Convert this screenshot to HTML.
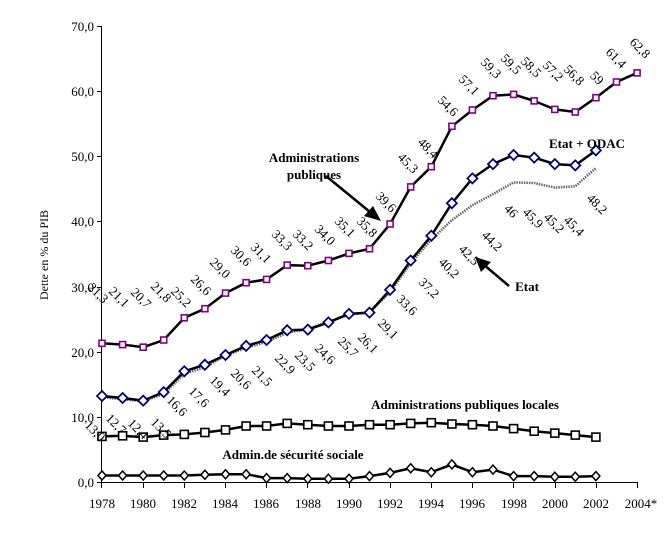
<!DOCTYPE html>
<html><head><meta charset="utf-8"><style>
html,body{margin:0;padding:0;background:#fff;}
svg{display:block;font-family:"Liberation Serif",serif;}
.l{font-size:13px;fill:#000;}
</style></head><body>
<svg width="669" height="543" viewBox="0 0 669 543" xmlns="http://www.w3.org/2000/svg">
<!-- axes -->
<g stroke="#000" stroke-width="1">
<line x1="101.5" y1="26" x2="101.5" y2="482"/>
<line x1="101" y1="482.5" x2="637" y2="482.5"/>
<line x1="97" y1="26.5" x2="101" y2="26.5"/>
<line x1="97" y1="91.5" x2="101" y2="91.5"/>
<line x1="97" y1="156.5" x2="101" y2="156.5"/>
<line x1="97" y1="221.5" x2="101" y2="221.5"/>
<line x1="97" y1="287.5" x2="101" y2="287.5"/>
<line x1="97" y1="352.5" x2="101" y2="352.5"/>
<line x1="97" y1="417.5" x2="101" y2="417.5"/>
<line x1="97" y1="482.5" x2="101" y2="482.5"/>
<line x1="101.5" y1="482" x2="101.5" y2="488"/>
<line x1="143.5" y1="482" x2="143.5" y2="488"/>
<line x1="184.5" y1="482" x2="184.5" y2="488"/>
<line x1="225.5" y1="482" x2="225.5" y2="488"/>
<line x1="266.5" y1="482" x2="266.5" y2="488"/>
<line x1="307.5" y1="482" x2="307.5" y2="488"/>
<line x1="349.5" y1="482" x2="349.5" y2="488"/>
<line x1="390.5" y1="482" x2="390.5" y2="488"/>
<line x1="431.5" y1="482" x2="431.5" y2="488"/>
<line x1="472.5" y1="482" x2="472.5" y2="488"/>
<line x1="513.5" y1="482" x2="513.5" y2="488"/>
<line x1="555.5" y1="482" x2="555.5" y2="488"/>
<line x1="596.5" y1="482" x2="596.5" y2="488"/>
<line x1="637.5" y1="482" x2="637.5" y2="488"/>
</g>
<g class="l" text-anchor="end">
<text x="94" y="31">70,0</text><text x="94" y="96">60,0</text><text x="94" y="161">50,0</text>
<text x="94" y="226">40,0</text><text x="94" y="292">30,0</text><text x="94" y="357">20,0</text>
<text x="94" y="422">10,0</text><text x="94" y="487">0,0</text>
</g>
<g class="l" text-anchor="middle">
<text x="102" y="508">1978</text><text x="143" y="508">1980</text><text x="184" y="508">1982</text>
<text x="225" y="508">1984</text><text x="266" y="508">1986</text><text x="308" y="508">1988</text>
<text x="349" y="508">1990</text><text x="390" y="508">1992</text><text x="431" y="508">1994</text>
<text x="472" y="508">1996</text><text x="514" y="508">1998</text><text x="555" y="508">2000</text>
<text x="596" y="508">2002</text><text x="641" y="508">2004*</text>
</g>
<text class="l" transform="translate(48,255) rotate(-90)" text-anchor="middle" style="font-size:12px">Dette en % du PIB</text>

<!-- Etat dotted -->
<polyline fill="none" stroke="#666" stroke-width="2.5" stroke-dasharray="1.5,1" points="102,397.3 122.6,399.3 143.2,401.2 163.7,394.1 184.3,373.9 204.9,367.4 225.5,355.6 246.1,347.8 266.6,341.9 287.2,332.8 307.8,328.9 328.4,321.8 349,314.6 369.5,312 390.1,292.4 410.7,263.1 431.3,239.7 451.9,220.1 472.4,205.2 493,194.1 513.6,182.4 534.2,183 554.8,187.6 575.3,186.3 595.9,168"/>
<!-- Etat + ODAC -->
<polyline fill="none" stroke="#000" stroke-width="2.5" points="102,396 122.6,398 143.2,400.6 163.7,392.1 184.3,371.3 204.9,364.7 225.5,355 246.1,345.9 266.6,340 287.2,330.2 307.8,329.6 328.4,322.4 349,313.9 369.5,312.6 390.1,289.8 410.7,260.5 431.3,235.8 451.9,203.2 472.4,178.4 493,164.1 513.6,155 534.2,157.6 554.8,164.1 575.3,165.4 595.9,150.4"/>
<g fill="#fff" stroke="#000080" stroke-width="1.8">
<path d="M102,391l5,5-5,5-5-5z"/><path d="M122.6,393l5,5-5,5-5-5z"/><path d="M143.2,395.6l5,5-5,5-5-5z"/><path d="M163.7,387.1l5,5-5,5-5-5z"/><path d="M184.3,366.3l5,5-5,5-5-5z"/><path d="M204.9,359.7l5,5-5,5-5-5z"/><path d="M225.5,350l5,5-5,5-5-5z"/><path d="M246.1,340.9l5,5-5,5-5-5z"/><path d="M266.6,335l5,5-5,5-5-5z"/><path d="M287.2,325.2l5,5-5,5-5-5z"/><path d="M307.8,324.6l5,5-5,5-5-5z"/><path d="M328.4,317.4l5,5-5,5-5-5z"/><path d="M349,308.9l5,5-5,5-5-5z"/><path d="M369.5,307.6l5,5-5,5-5-5z"/><path d="M390.1,284.8l5,5-5,5-5-5z"/><path d="M410.7,255.5l5,5-5,5-5-5z"/><path d="M431.3,230.8l5,5-5,5-5-5z"/><path d="M451.9,198.2l5,5-5,5-5-5z"/><path d="M472.4,173.4l5,5-5,5-5-5z"/><path d="M493,159.1l5,5-5,5-5-5z"/><path d="M513.6,150l5,5-5,5-5-5z"/><path d="M534.2,152.6l5,5-5,5-5-5z"/><path d="M554.8,159.1l5,5-5,5-5-5z"/><path d="M575.3,160.4l5,5-5,5-5-5z"/><path d="M595.9,145.4l5,5-5,5-5-5z"/>
</g>
<!-- APU -->
<polyline fill="none" stroke="#000" stroke-width="2.5" points="102,343.3 122.6,344.6 143.2,347.2 163.7,340 184.3,317.8 204.9,308.7 225.5,293.1 246.1,282.7 266.6,279.4 287.2,265.1 307.8,265.7 328.4,260.5 349,253.4 369.5,248.8 390.1,224 410.7,186.9 431.3,166.7 451.9,126.3 472.4,110 493,95.7 513.6,94.4 534.2,100.9 554.8,109.4 575.3,112 595.9,97.7 616.5,82 637.1,72.9"/>
<g fill="#fff" stroke="#800080" stroke-width="1.6">
<rect x="99" y="340.3" width="6" height="6"/><rect x="119.6" y="341.6" width="6" height="6"/><rect x="140.2" y="344.2" width="6" height="6"/><rect x="160.7" y="337" width="6" height="6"/><rect x="181.3" y="314.8" width="6" height="6"/><rect x="201.9" y="305.7" width="6" height="6"/><rect x="222.5" y="290.1" width="6" height="6"/><rect x="243.1" y="279.7" width="6" height="6"/><rect x="263.6" y="276.4" width="6" height="6"/><rect x="284.2" y="262.1" width="6" height="6"/><rect x="304.8" y="262.7" width="6" height="6"/><rect x="325.4" y="257.5" width="6" height="6"/><rect x="346" y="250.4" width="6" height="6"/><rect x="366.5" y="245.8" width="6" height="6"/><rect x="387.1" y="221" width="6" height="6"/><rect x="407.7" y="183.9" width="6" height="6"/><rect x="428.3" y="163.7" width="6" height="6"/><rect x="448.9" y="123.3" width="6" height="6"/><rect x="469.4" y="107" width="6" height="6"/><rect x="490" y="92.7" width="6" height="6"/><rect x="510.6" y="91.4" width="6" height="6"/><rect x="531.2" y="97.9" width="6" height="6"/><rect x="551.8" y="106.4" width="6" height="6"/><rect x="572.3" y="109" width="6" height="6"/><rect x="592.9" y="94.7" width="6" height="6"/><rect x="613.5" y="79" width="6" height="6"/><rect x="634.1" y="69.9" width="6" height="6"/>
</g>
<!-- APUL -->
<polyline fill="none" stroke="#000" stroke-width="2.5" points="102,436.4 122.6,435.8 143.2,437.1 163.7,435.1 184.3,434.4 204.9,432.5 225.5,429.9 246.1,426 266.6,426 287.2,423.4 307.8,424.7 328.4,426 349,426 369.5,424.7 390.1,424.7 410.7,423.4 431.3,422.7 451.9,424 472.4,424.7 493,426 513.6,428.6 534.2,431.2 554.8,433.1 575.3,435.1 595.9,437.1"/>
<g fill="#fff" stroke="#000" stroke-width="1.6">
<rect x="98" y="432.4" width="8" height="8"/><rect x="118.6" y="431.8" width="8" height="8"/><rect x="139.2" y="433.1" width="8" height="8"/><rect x="159.7" y="431.1" width="8" height="8"/><rect x="180.3" y="430.4" width="8" height="8"/><rect x="200.9" y="428.5" width="8" height="8"/><rect x="221.5" y="425.9" width="8" height="8"/><rect x="242.1" y="422" width="8" height="8"/><rect x="262.6" y="422" width="8" height="8"/><rect x="283.2" y="419.4" width="8" height="8"/><rect x="303.8" y="420.7" width="8" height="8"/><rect x="324.4" y="422" width="8" height="8"/><rect x="345" y="422" width="8" height="8"/><rect x="365.5" y="420.7" width="8" height="8"/><rect x="386.1" y="420.7" width="8" height="8"/><rect x="406.7" y="419.4" width="8" height="8"/><rect x="427.3" y="418.7" width="8" height="8"/><rect x="447.9" y="420" width="8" height="8"/><rect x="468.4" y="420.7" width="8" height="8"/><rect x="489" y="422" width="8" height="8"/><rect x="509.6" y="424.6" width="8" height="8"/><rect x="530.2" y="427.2" width="8" height="8"/><rect x="550.8" y="429.1" width="8" height="8"/><rect x="571.3" y="431.1" width="8" height="8"/><rect x="591.9" y="433.1" width="8" height="8"/>
</g>
<!-- ASSO -->
<polyline fill="none" stroke="#000" stroke-width="2.5" points="102,475.5 122.6,475.5 143.2,475.5 163.7,475.5 184.3,475.5 204.9,474.8 225.5,474.2 246.1,474.2 266.6,478.1 287.2,478.1 307.8,478.7 328.4,478.7 349,478.7 369.5,476.1 390.1,472.9 410.7,468.3 431.3,472.2 451.9,464.4 472.4,472.2 493,469.6 513.6,476.1 534.2,476.1 554.8,476.8 575.3,476.8 595.9,476.1"/>
<g fill="#fff" stroke="#000" stroke-width="1.5">
<path d="M102,471l4,4.5-4,4.5-4-4.5z"/><path d="M122.6,471l4,4.5-4,4.5-4-4.5z"/><path d="M143.2,471l4,4.5-4,4.5-4-4.5z"/><path d="M163.7,471l4,4.5-4,4.5-4-4.5z"/><path d="M184.3,471l4,4.5-4,4.5-4-4.5z"/><path d="M204.9,470.3l4,4.5-4,4.5-4-4.5z"/><path d="M225.5,469.7l4,4.5-4,4.5-4-4.5z"/><path d="M246.1,469.7l4,4.5-4,4.5-4-4.5z"/><path d="M266.6,473.6l4,4.5-4,4.5-4-4.5z"/><path d="M287.2,473.6l4,4.5-4,4.5-4-4.5z"/><path d="M307.8,474.2l4,4.5-4,4.5-4-4.5z"/><path d="M328.4,474.2l4,4.5-4,4.5-4-4.5z"/><path d="M349,474.2l4,4.5-4,4.5-4-4.5z"/><path d="M369.5,471.6l4,4.5-4,4.5-4-4.5z"/><path d="M390.1,468.4l4,4.5-4,4.5-4-4.5z"/><path d="M410.7,463.8l4,4.5-4,4.5-4-4.5z"/><path d="M431.3,467.7l4,4.5-4,4.5-4-4.5z"/><path d="M451.9,459.9l4,4.5-4,4.5-4-4.5z"/><path d="M472.4,467.7l4,4.5-4,4.5-4-4.5z"/><path d="M493,465.1l4,4.5-4,4.5-4-4.5z"/><path d="M513.6,471.6l4,4.5-4,4.5-4-4.5z"/><path d="M534.2,471.6l4,4.5-4,4.5-4-4.5z"/><path d="M554.8,472.3l4,4.5-4,4.5-4-4.5z"/><path d="M575.3,472.3l4,4.5-4,4.5-4-4.5z"/><path d="M595.9,471.6l4,4.5-4,4.5-4-4.5z"/>
</g>

<!-- APU labels -->
<g class="l" text-anchor="middle">
<text transform="translate(95,296) rotate(45)">21,3</text>
<text transform="translate(116,300) rotate(45)">21,1</text>
<text transform="translate(138,301) rotate(45)">20,7</text>
<text transform="translate(158,295) rotate(45)">21,8</text>
<text transform="translate(178,300) rotate(45)">25,2</text>
<text transform="translate(198,288) rotate(45)">26,6</text>
<text transform="translate(217,271) rotate(45)">29,0</text>
<text transform="translate(238,259) rotate(45)">30,6</text>
<text transform="translate(258,256) rotate(45)">31,1</text>
<text transform="translate(279,243) rotate(45)">33,3</text>
<text transform="translate(300,243) rotate(45)">33,2</text>
<text transform="translate(322,238) rotate(45)">34,0</text>
<text transform="translate(342,230) rotate(45)">35,1</text>
<text transform="translate(364,230) rotate(45)">35,8</text>
<text transform="translate(383,205) rotate(45)">39,6</text>
<text transform="translate(405,166) rotate(45)">45,3</text>
<text transform="translate(425,151) rotate(45)">48,4</text>
<text transform="translate(445,109) rotate(45)">54,6</text>
<text transform="translate(466,88) rotate(45)">57,1</text>
<text transform="translate(488,71) rotate(45)">59,3</text>
<text transform="translate(508,67) rotate(45)">59,5</text>
<text transform="translate(528,70) rotate(45)">58,5</text>
<text transform="translate(550,74) rotate(45)">57,2</text>
<text transform="translate(571,78) rotate(45)">56,8</text>
<text transform="translate(594,81) rotate(45)">59</text>
<text transform="translate(613,61) rotate(45)">61,4</text>
<text transform="translate(637,51) rotate(45)">62,8</text>
</g>
<!-- Etat labels -->
<g class="l" text-anchor="middle">
<text transform="translate(92,434) rotate(45)">13,0</text>
<text transform="translate(113,427) rotate(45)">12,7</text>
<text transform="translate(135,432) rotate(45)">12,4</text>
<text transform="translate(158,431) rotate(45)">13,5</text>
<text transform="translate(174,409) rotate(45)">16,6</text>
<text transform="translate(196,400) rotate(45)">17,6</text>
<text transform="translate(217,389) rotate(45)">19,4</text>
<text transform="translate(238,382) rotate(45)">20,6</text>
<text transform="translate(259,379) rotate(45)">21,5</text>
<text transform="translate(282,367) rotate(45)">22,9</text>
<text transform="translate(302,364) rotate(45)">23,5</text>
<text transform="translate(322,357) rotate(45)">24,6</text>
<text transform="translate(345,350) rotate(45)">25,7</text>
<text transform="translate(365,346) rotate(45)">26,1</text>
<text transform="translate(385,332) rotate(45)">29,1</text>
<text transform="translate(404,308) rotate(45)">33,6</text>
<text transform="translate(426,291) rotate(45)">37,2</text>
<text transform="translate(446,271) rotate(45)">40,2</text>
<text transform="translate(466,258) rotate(45)">42,5</text>
<text transform="translate(489,244) rotate(45)">44,2</text>
<text transform="translate(508,214) rotate(45)">46</text>
<text transform="translate(530,221) rotate(45)">45,9</text>
<text transform="translate(551,226) rotate(45)">45,2</text>
<text transform="translate(571,229) rotate(45)">45,4</text>
<text transform="translate(594,207) rotate(45)">48,2</text>
</g>

<!-- annotations -->
<g font-weight="bold" style="font-size:13px" text-anchor="middle">
<text x="314" y="162">Administrations</text>
<text x="314" y="179">publiques</text>
<text x="587" y="148">Etat + ODAC</text>
<text x="527" y="291">Etat</text>
<text x="465" y="409">Administrations publiques locales</text>
<text x="293" y="459">Admin.de sécurité sociale</text>
</g>
<g stroke="#000" stroke-width="2.5">
<line x1="326" y1="176" x2="370" y2="212"/>
<line x1="509" y1="286" x2="483" y2="264"/>
</g>
<path d="M381,221 L364,216 L373,206 Z" fill="#000"/>
<path d="M475,257 L491,262 L481,272 Z" fill="#000"/>
</svg>
</body></html>
